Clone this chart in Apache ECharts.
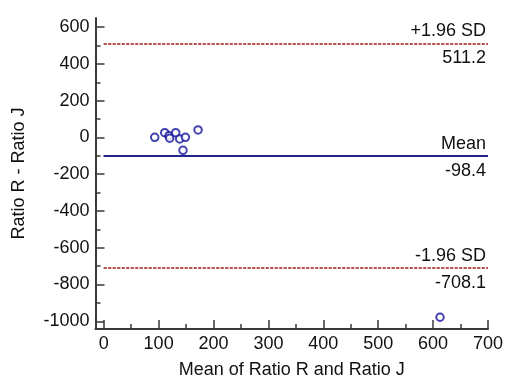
<!DOCTYPE html>
<html>
<head>
<meta charset="utf-8">
<script src="https://cdn.jsdelivr.net/npm/echarts@6/dist/echarts.min.js"></script>
<style>
  html, body { margin: 0; padding: 0; background: #fff; }
  #chart { width: 515px; height: 391px; }
</style>
</head>
<body>
<div id="chart"></div>
<script>
// Bland-Altman: mean of the two ratios vs their difference
const meanRJ = [92.9, 111.1, 118.9, 120.2, 131.1, 138.4, 148.8, 144.4, 171.8, 612.6]
const diffRJ = [1, 26, 10, -4, 26, -8, 1, -70, 41, -978]

const meanDiff = -98.4
const upperLoA = 511.2
const lowerLoA = -708.1

const xTicks = [0, 100, 200, 300, 400, 500, 600, 700]
const xMinorTicks = [50, 150, 250, 350, 450, 550, 650]
const yTicks = [-1000, -800, -600, -400, -200, 0, 200, 400, 600]
const yMinorTicks = [-900, -700, -500, -300, -100, 100, 300, 500]

const font = 'Liberation Sans, Arial, sans-serif'
const axisColor = '#3a3a3a'
const textColor = '#111'
const navy = '#23238f'
const red = '#b54a4a'

const chart = echarts.init(document.getElementById('chart'))

const xStart = xTicks[0]
const xEnd = xTicks[xTicks.length - 1]

// one line with a caption above and the value below, at the right end
const refLine = (value, caption, lineStyle) => [
  [
    {
      coord: [xStart, value],
      lineStyle,
      label: { show: true, position: 'insideEndTop', distance: [2, 3], formatter: caption },
    },
    { coord: [xEnd, value] },
  ],
  [
    {
      coord: [xStart, value],
      lineStyle,
      label: { show: true, position: 'insideEndBottom', distance: [2, 6], formatter: value.toFixed(1) },
    },
    { coord: [xEnd, value] },
  ],
]

const dotted = { color: red, width: 1.5, type: [3, 1.5] }
const solid = { color: navy, width: 2, type: 'solid' }

const tickLabel = { fontSize: 18, color: textColor, margin: 6, fontFamily: font, formatter: (v) => String(v) }
const nameStyle = { fontSize: 18, color: textColor, fontFamily: font }

const majorAxis = (min, max, name, nameGap, ticks) => ({
  type: 'value',
  min,
  max,
  name,
  nameLocation: 'middle',
  nameGap,
  nameTextStyle: nameStyle,
  splitLine: { show: false },
  axisLine: { show: true, onZero: false, lineStyle: { color: axisColor, width: 2 } },
  axisTick: { show: true, inside: true, length: 9, customValues: ticks, lineStyle: { color: axisColor, width: 1.5 } },
  axisLabel: { ...tickLabel, customValues: ticks },
})

const minorAxis = (min, max, position, ticks) => ({
  type: 'value',
  min,
  max,
  position,
  splitLine: { show: false },
  axisLine: { show: false, onZero: false },
  axisTick: { show: true, inside: true, length: 5, customValues: ticks, lineStyle: { color: axisColor, width: 1.5 } },
  axisLabel: { show: false },
})

const option = {
  animation: false,
  textStyle: { fontFamily: font },
  grid: { left: 95.5, right: 27, top: 18, bottom: 62 },
  xAxis: [
    majorAxis(-15, 700, 'Mean of Ratio R and Ratio J', 32, xTicks),
    minorAxis(-15, 700, 'bottom', xMinorTicks),
  ],
  yAxis: [
    majorAxis(-1042, 650, 'Ratio R - Ratio J', 67, yTicks),
    minorAxis(-1042, 650, 'left', yMinorTicks),
  ],
  series: [
    {
      type: 'scatter',
      xAxisIndex: 0,
      yAxisIndex: 0,
      data: meanRJ.map((x, i) => [x, diffRJ[i]]),
      symbol: 'emptyCircle',
      symbolSize: 7.5,
      itemStyle: { color: '#14149c', borderWidth: 1.5 },
      markLine: {
        silent: true,
        symbol: 'none',
        label: { color: textColor, fontSize: 18, fontFamily: font },
        data: [
          ...refLine(upperLoA, '+1.96 SD', dotted),
          ...refLine(meanDiff, 'Mean', solid),
          ...refLine(lowerLoA, '-1.96 SD', dotted),
        ],
      },
    },
  ],
}

chart.setOption(option)
</script>
</body>
</html>
